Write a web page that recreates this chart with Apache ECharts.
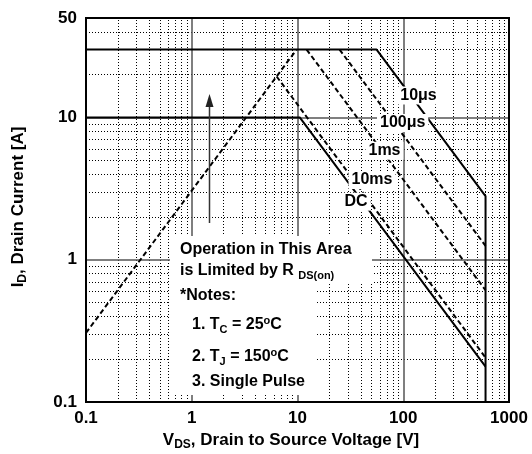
<!DOCTYPE html>
<html><head><meta charset="utf-8">
<script src="https://cdn.jsdelivr.net/npm/echarts@6/dist/echarts.min.js"></script>
<style>html,body{margin:0;padding:0;background:#fff}#c{width:532px;height:454px}</style>
</head><body><div id="c"></div>
<script>
// ---- data ----
const xTickValues = [0.1, 1, 10, 100, 1000];
const xTickLabels = ['0.1', '1', '10', '100', '1000'];
const yTickValues = [0.1, 1, 10, 50];
const yTickLabels = ['0.1', '1', '10', '50'];
const xMajorGrid = [1, 10, 100];
const yMajorGrid = [1, 10];
const xMinorGrid = [0.2,0.3,0.4,0.5,0.6,0.7,0.8,0.9, 2,3,4,5,6,7,8,9, 20,30,40,50,60,70,80,90, 200,300,400,500,600,700,800,900];
const yMinorGrid = [0.2,0.3,0.4,0.5,0.6,0.7,0.8,0.9, 2,3,4,5,6,7,8,9, 20,30,40];

// SOA curves: [V_DS (V), I_D (A)]
const rdsOnLimit = [[0.1, 0.306], [9.8, 30]];
const pulse10us  = [[0.1, 30], [56, 30], [600, 2.8], [600, 0.1]];
const pulse100us = [[25, 30], [600, 1.25]];
const pulse1ms   = [[12.2, 30], [600, 0.61]];
const pulse10ms  = [[6.35, 19.4], [600, 0.205]];
const dcCurve    = [[0.1, 10], [10.5, 10], [600, 0.177]];

const curveLabels = ['10μs', '100μs', '1ms', '10ms', 'DC'];

// ---- chart ----
const FF = '"Liberation Sans", Arial, sans-serif';
const chart = echarts.init(document.getElementById('c'), null, {renderer: 'canvas'});

function solid(data) {
  return {type: 'line', data, showSymbol: false, symbol: 'none', z: 5, silent: true,
    lineStyle: {color: '#000', width: 2, type: 'solid'}, animation: false};
}
function dashed(data) {
  return {type: 'line', data, showSymbol: false, symbol: 'none', z: 5, silent: true,
    lineStyle: {color: '#000', width: 2, type: [5, 3]}, animation: false};
}
function gridLines(xs, ys, style, z) {
  return {
    type: 'line', data: [[1, 1]], showSymbol: false, symbol: 'none', lineStyle: {opacity: 0},
    z, silent: true, animation: false,
    markLine: {
      silent: true, symbol: ['none', 'none'], label: {show: false}, animation: false,
      lineStyle: style,
      emphasis: {disabled: true},
      data: [...xs.map(v => ({xAxis: v})), ...ys.map(v => ({yAxis: v}))]
    }
  };
}

const labelPos = [[418.5, 95.5], [402.7, 123], [384.5, 150.7], [372, 180], [356, 201.7]];
const curveLabelEls = curveLabels.map((t, i) => ({
  type: 'text', x: labelPos[i][0], y: labelPos[i][1], z: 60,
  style: {text: t, textAlign: 'center', textVerticalAlign: 'middle',
    font: 'bold 16px ' + FF, fill: '#000', backgroundColor: '#fff', padding: [1, 3]}
}));

const rich = {
  b: {fontSize: 16, fontWeight: 'bold', fontFamily: FF, lineHeight: 20, fill: '#000'},
  s: {fontSize: 11, fontWeight: 'bold', fontFamily: FF, lineHeight: 10, verticalAlign: 'bottom', fill: '#000'},
  p: {fontSize: 11, fontWeight: 'bold', fontFamily: FF, lineHeight: 10, verticalAlign: 'top', fill: '#000'},
  B: {fontSize: 17, fontWeight: 'bold', fontFamily: FF, lineHeight: 22, fill: '#000'},
  S: {fontSize: 12, fontWeight: 'bold', fontFamily: FF, lineHeight: 11, verticalAlign: 'bottom', fill: '#000'}
};
function txt(x, y, text) {
  return {type: 'text', x, y, z: 62,
    style: {text, rich, textAlign: 'left', textVerticalAlign: 'middle', fill: '#000', font: 'bold 16px ' + FF}};
}

const notes = [
  {type: 'rect', z: 55, shape: {x: 170, y: 236, width: 202, height: 48}, style: {fill: '#fff'}},
  {type: 'rect', z: 55, shape: {x: 170, y: 283, width: 145, height: 112}, style: {fill: '#fff'}},
  txt(180, 250, '{b|Operation in This Area}'),
  txt(180, 271, '{b|is Limited by R }{s|DS(on)}'),
  txt(180, 296, '{b|*Notes:}'),
  txt(192, 325, '{b|1. T}{s|C}{b| = 25}{p|o}{b|C}'),
  txt(192, 357, '{b|2. T}{s|J}{b| = 150}{p|o}{b|C}'),
  txt(192, 382, '{b|3. Single Pulse}')
];

const arrow = [
  {type: 'line', z: 50, shape: {x1: 209.5, y1: 223, x2: 209.5, y2: 104}, style: {stroke: '#333', lineWidth: 1.5}},
  {type: 'polygon', z: 50, shape: {points: [[209.5, 94], [205.5, 107], [213.5, 107]]}, style: {fill: '#222'}}
];

const axisNames = [
  {type: 'text', x: 291, y: 440, z: 62,
    style: {text: '{B|V}{S|DS}{B|, Drain to Source Voltage [V]}', rich, textAlign: 'center', textVerticalAlign: 'middle', fill: '#000'}},
  {type: 'text', x: 18, y: 207, z: 62, rotation: Math.PI / 2,
    style: {text: '{B|I}{S|D}{B|, Drain Current [A]}', rich, textAlign: 'center', textVerticalAlign: 'middle', fill: '#000'}}
];

const option = {
  backgroundColor: '#fff',
  animation: false,
  grid: {left: 86, top: 18, right: 23, bottom: 52, containLabel: false, outerBoundsMode: 'none',
    show: true, borderColor: '#000', borderWidth: 2, backgroundColor: 'transparent', z: 10},
  xAxis: {
    type: 'log', logBase: 10, min: 0.1, max: 1000,
    axisLine: {show: false}, axisTick: {show: false}, splitLine: {show: false}, minorSplitLine: {show: false},
    axisLabel: {customValues: xTickValues, margin: 8, fontSize: 17, fontWeight: 'bold', fontFamily: FF, color: '#000',
      formatter: v => { const i = xTickValues.findIndex(t => Math.abs(Math.log10(t) - Math.log10(v)) < 1e-6); return i >= 0 ? xTickLabels[i] : ''; }}
  },
  yAxis: {
    type: 'log', logBase: 10, min: 0.1, max: 50,
    axisLine: {show: false}, axisTick: {show: false}, splitLine: {show: false}, minorSplitLine: {show: false},
    axisLabel: {customValues: yTickValues, margin: 9, fontSize: 17, fontWeight: 'bold', fontFamily: FF, color: '#000',
      formatter: v => { const i = yTickValues.findIndex(t => Math.abs(Math.log10(t) - Math.log10(v)) < 1e-6); return i >= 0 ? yTickLabels[i] : ''; }}
  },
  series: [
    gridLines(xMinorGrid, yMinorGrid, {color: '#000', width: 1, type: [1, 2]}, 1),
    gridLines(xMajorGrid, yMajorGrid, {color: '#555', width: 1.5, type: 'solid'}, 2),
    dashed(rdsOnLimit),
    solid(pulse10us),
    dashed(pulse100us),
    dashed(pulse1ms),
    dashed(pulse10ms),
    solid(dcCurve)
  ],
  graphic: {elements: [...arrow, ...notes, ...curveLabelEls, ...axisNames]}
};
chart.setOption(option);
</script>
</body></html>
